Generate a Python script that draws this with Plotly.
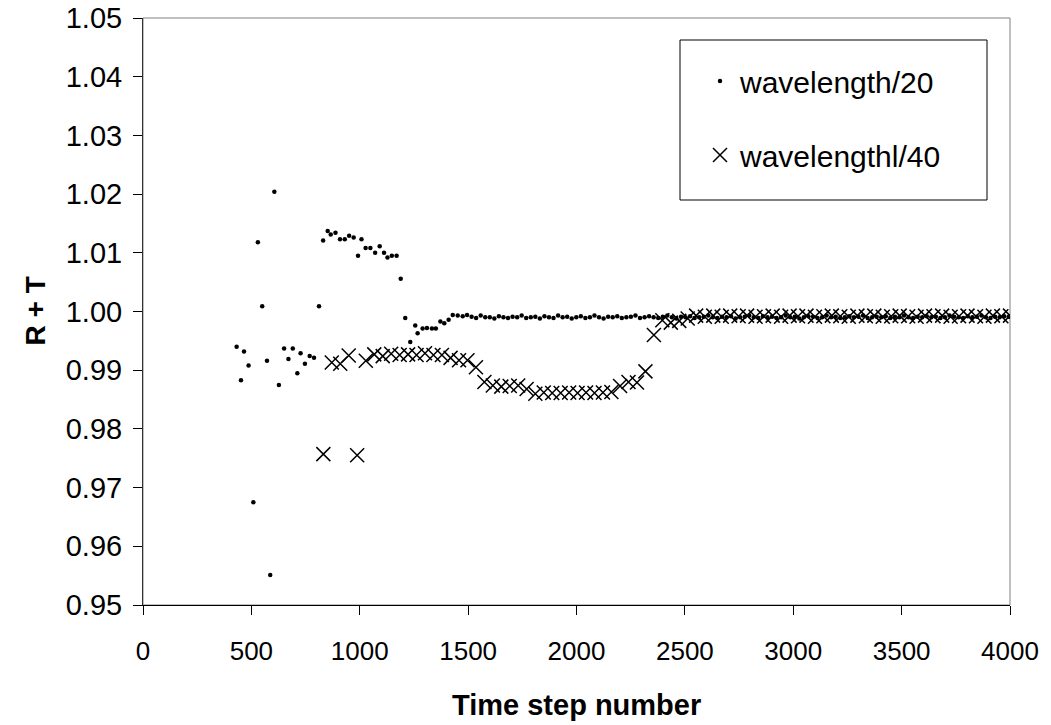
import plotly.graph_objects as go

# ---- data ----
t_20 = [432, 452, 466, 487, 509, 530, 550, 572, 587, 606, 627, 651, 671, 691, 712, 727, 747, 769, 789, 812,
        831, 852, 866, 888, 909, 931, 951, 972, 992, 1008, 1027, 1049, 1071, 1092, 1112, 1128, 1148, 1170, 1189,
        1210, 1233, 1256, 1267, 1290, 1310, 1333, 1351, 1372, 1390, 1410, 1429, 1452, 1475, 1495,
        1516, 1537, 1558, 1579, 1600, 1621, 1642, 1663, 1684, 1705, 1726, 1747, 1768, 1789, 1810, 1831, 1852,
        1873, 1894, 1915, 1936, 1957, 1978, 1999, 2020, 2041, 2062, 2083, 2104, 2125, 2146, 2167, 2188, 2209,
        2230, 2251, 2272, 2293, 2314, 2335, 2356, 2377, 2398, 2419, 2440, 2461, 2482, 2503, 2524, 2545, 2566,
        2587, 2608, 2629, 2650, 2671, 2692, 2713, 2734, 2755, 2776, 2797, 2818, 2839, 2860, 2881, 2902, 2923,
        2944, 2965, 2986, 3007, 3028, 3049, 3070, 3091, 3112, 3133, 3154, 3175, 3196, 3217, 3238, 3259, 3280,
        3301, 3322, 3343, 3364, 3385, 3406, 3427, 3448, 3469, 3490, 3511, 3532, 3553, 3574, 3595, 3616, 3637,
        3658, 3679, 3700, 3721, 3742, 3763, 3784, 3805, 3826, 3847, 3868, 3889, 3910, 3931, 3952, 3973, 3994]

rt_20 = [0.9940, 0.9883, 0.9932, 0.9908, 0.9675, 1.0118, 1.0009, 0.9916, 0.9551, 1.0204,
         0.9875, 0.9937, 0.9919, 0.9937, 0.9895, 0.9929, 0.9911, 0.9924, 0.9921, 1.0009,
         1.0121, 1.0137, 1.0131, 1.0134, 1.0123, 1.0123, 1.0129, 1.0126, 1.0095, 1.0123,
         1.0108, 1.0108, 1.0100, 1.0111, 1.0100, 1.0092, 1.0095, 1.0095, 1.0056, 0.9989,
         0.9948, 0.9976, 0.9963, 0.9971, 0.9972, 0.9971, 0.9971, 0.9983, 0.9980, 0.9986,
         0.9994, 0.9993, 0.9992, 0.9994,
         0.9991, 0.9989, 0.9993, 0.9990, 0.9990, 0.9988, 0.9992, 0.9990, 0.9989, 0.9991,
         0.9990, 0.9993, 0.9989, 0.9990, 0.9991, 0.9988, 0.9992, 0.9990, 0.9989, 0.9993,
         0.9990, 0.9991, 0.9988, 0.9990, 0.9992, 0.9989, 0.9990, 0.9993, 0.9990, 0.9988,
         0.9991, 0.9990, 0.9992, 0.9989, 0.9990, 0.9991, 0.9993, 0.9989, 0.9990, 0.9992,
         0.9990, 0.9989, 0.9991, 0.9993, 0.9990, 0.9988, 0.9991, 0.9990, 0.9992, 0.9989,
         0.9990, 0.9991, 0.9993, 0.9990, 0.9989, 0.9991, 0.9990, 0.9992, 0.9988, 0.9990,
         0.9991, 0.9993, 0.9990, 0.9989, 0.9992, 0.9990, 0.9991, 0.9989, 0.9990, 0.9993,
         0.9990, 0.9991, 0.9988, 0.9990, 0.9992, 0.9991, 0.9989, 0.9990, 0.9993, 0.9990,
         0.9991, 0.9989, 0.9990, 0.9992, 0.9990, 0.9991, 0.9993, 0.9989, 0.9990, 0.9991,
         0.9990, 0.9992, 0.9989, 0.9991, 0.9990, 0.9993, 0.9990, 0.9989, 0.9991, 0.9990,
         0.9992, 0.9990, 0.9991, 0.9989, 0.9990, 0.9993, 0.9991, 0.9990, 0.9989, 0.9992,
         0.9990, 0.9991, 0.9993, 0.9990, 0.9989, 0.9991, 0.9990, 0.9992, 0.9991]

t_40 = [832, 871, 910, 949, 988, 1028, 1067, 1106, 1145, 1184, 1223, 1262, 1301, 1340, 1379, 1419, 1458,
        1497, 1536, 1575, 1614, 1653, 1692, 1731, 1770, 1810, 1849, 1888, 1927, 1966, 2005, 2044, 2083, 2122,
        2161, 2201, 2240, 2279, 2318, 2357, 2396, 2435, 2474, 2513, 2552, 2592, 2631, 2670, 2709, 2748, 2787,
        2826, 2865, 2905, 2944, 2983, 3022, 3061, 3100, 3139, 3178, 3217, 3256, 3296, 3335, 3374, 3413, 3452,
        3491, 3530, 3569, 3608, 3647, 3687, 3726, 3765, 3804, 3843, 3882, 3921, 3960, 4000]

rt_40 = [0.9757, 0.9913, 0.9911, 0.9925, 0.9755, 0.9916, 0.9927, 0.9924, 0.9928, 0.9926,
         0.9927, 0.9926, 0.9929, 0.9926, 0.9926, 0.9921, 0.9917, 0.9917, 0.9905, 0.9880,
         0.9874, 0.9872, 0.9873, 0.9874, 0.9868, 0.9860, 0.9862, 0.9861, 0.9861, 0.9862,
         0.9861, 0.9862, 0.9861, 0.9862, 0.9863, 0.9873, 0.9880, 0.9879, 0.9898, 0.9960,
         0.9985, 0.9981, 0.9984, 0.9988, 0.9993, 0.9991,
         0.9993, 0.9991, 0.9993, 0.9992, 0.9993, 0.9991, 0.9992, 0.9993, 0.9991, 0.9993,
         0.9992, 0.9993, 0.9991, 0.9992, 0.9993, 0.9992, 0.9991, 0.9993, 0.9992, 0.9993,
         0.9991, 0.9992, 0.9993, 0.9992, 0.9991, 0.9993, 0.9992, 0.9993, 0.9991, 0.9992,
         0.9993, 0.9992, 0.9991, 0.9993, 0.9992, 0.9993]

x_ticks = [0, 500, 1000, 1500, 2000, 2500, 3000, 3500, 4000]
y_ticks = [0.95, 0.96, 0.97, 0.98, 0.99, 1.00, 1.01, 1.02, 1.03, 1.04, 1.05]

name_20 = "wavelength/20"
name_40 = "wavelengthl/40"

FONT = "Liberation Sans, Arial, sans-serif"
NARROW = "Liberation Sans Narrow, Arial Narrow, Liberation Sans, Arial, sans-serif"

fig = go.Figure()
fig.add_trace(go.Scatter(
    x=t_20, y=rt_20, mode="markers", name=name_20,
    marker=dict(symbol="circle", size=4.5, color="black"),
    legend="legend",
))
fig.add_trace(go.Scatter(
    x=t_40, y=rt_40, mode="markers", name=name_40,
    marker=dict(symbol="x-thin-open", size=14, color="black", line=dict(width=1.5, color="black")),
    legend="legend2",
))

# page body margin is removed below, so the figure fills the window exactly
W, H = 1051, 725
L, T = 143, 18
PW, PH = 867, 587
R, B = W - L - PW, H - T - PH

def px_x(p):
    return (p - L) / PW

def px_y(p):
    return 1 - (p - T) / PH

fig.update_layout(
    width=W, height=H,
    margin=dict(l=L, r=R, t=T, b=B, pad=0, autoexpand=False),
    paper_bgcolor="white", plot_bgcolor="white",
    font=dict(family=FONT, size=26, color="black"),
    showlegend=True,
    legend=dict(x=px_x(700), y=px_y(81), xanchor="left", yanchor="middle",
                bgcolor="rgba(0,0,0,0)", borderwidth=0, font=dict(size=30, family=FONT)),
    legend2=dict(x=px_x(700), y=px_y(155), xanchor="left", yanchor="middle",
                 bgcolor="rgba(0,0,0,0)", borderwidth=0, font=dict(size=30, family=FONT)),
    xaxis=dict(range=[0, 4000], tickvals=x_ticks, ticktext=[str(v) for v in x_ticks],
               showgrid=False, zeroline=False, showline=True, linecolor="black", linewidth=1,
               ticks="outside", ticklen=9, tickcolor="black", tickwidth=1, automargin=False,
               ticklabeloverflow="allow",
               tickfont=dict(family=NARROW, size=26), ticklabelstandoff=14),
    yaxis=dict(range=[0.95, 1.05], tickvals=y_ticks, ticktext=[f"{v:.2f}" for v in y_ticks],
               showgrid=False, zeroline=False, showline=True, linecolor="#333333", linewidth=1,
               ticks="outside", ticklen=9, tickcolor="black", tickwidth=1, automargin=False,
               ticklabeloverflow="allow",
               tickfont=dict(family=FONT, size=29), ticklabelstandoff=5),
    shapes=[
        dict(type="rect", xref="paper", yref="paper", x0=0, x1=1, y0=0, y1=1,
             line=dict(color="#808080", width=1), layer="below"),
        dict(type="rect", xref="paper", yref="paper",
             x0=px_x(680), x1=px_x(987), y0=px_y(200), y1=px_y(40),
             line=dict(color="black", width=1), fillcolor="rgba(0,0,0,0)", layer="above"),
    ],
    annotations=[
        dict(text="<b>R + T</b>", xref="paper", yref="paper", x=px_x(35), y=0.5,
             textangle=-90, showarrow=False, font=dict(family=FONT, size=28),
             xanchor="center", yanchor="middle"),
        dict(text="<b>Time step number</b>", xref="paper", yref="paper", x=0.5, y=px_y(705),
             showarrow=False, font=dict(family=NARROW, size=29),
             xanchor="center", yanchor="middle"),
    ],
)

fig.write_html("out.html",
               config={"displayModeBar": False},
               post_script="document.body.style.margin='0px';document.body.style.overflow='hidden';")
